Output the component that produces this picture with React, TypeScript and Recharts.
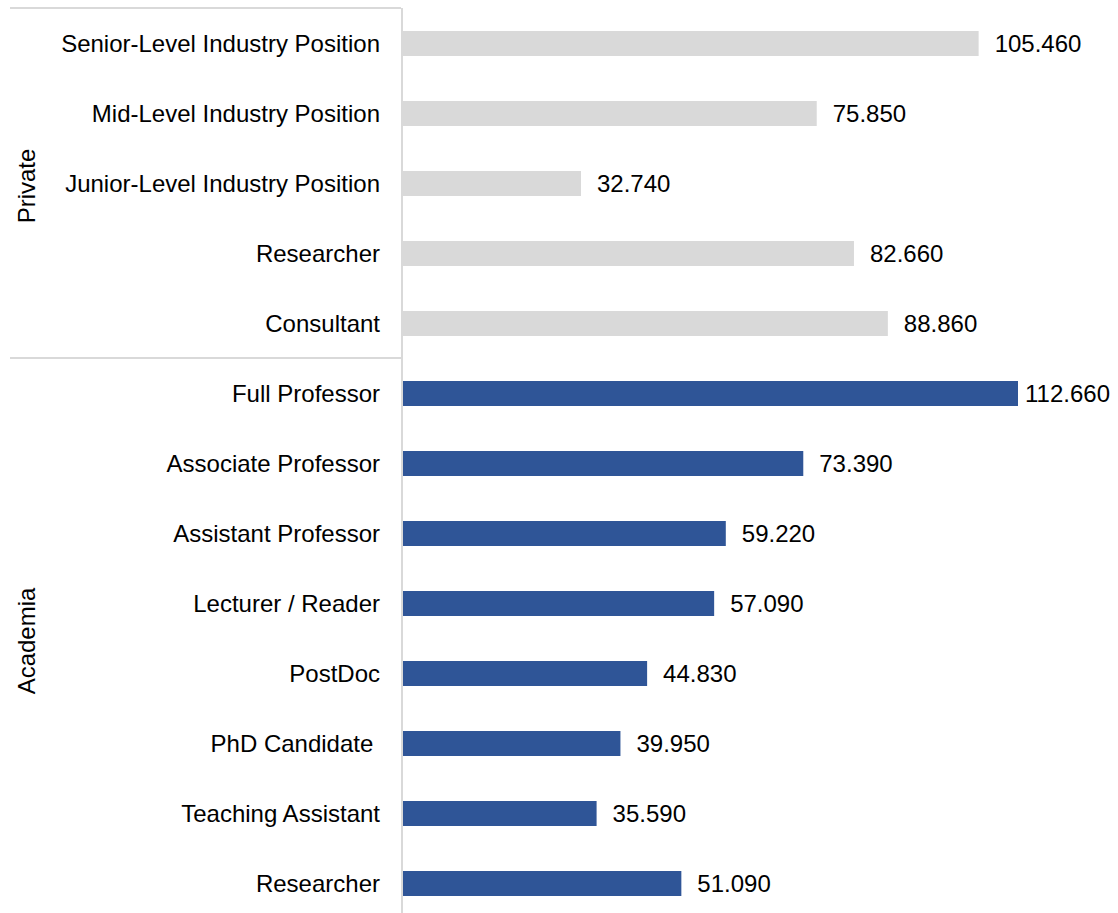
import { Bar, BarChart, Cell, LabelList, XAxis, YAxis } from "recharts";

const positions = [
  "Senior-Level Industry Position",
  "Mid-Level Industry Position",
  "Junior-Level Industry Position",
  "Researcher",
  "Consultant",
  "Full Professor",
  "Associate Professor",
  "Assistant Professor",
  "Lecturer / Reader",
  "PostDoc",
  "PhD Candidate ",
  "Teaching Assistant",
  "Researcher",
];
const salaries = [
  105.46, 75.85, 32.74, 82.66, 88.86, 112.66, 73.39, 59.22, 57.09, 44.83, 39.95, 35.59, 51.09,
];
const sectors = [
  "Private", "Private", "Private", "Private", "Private",
  "Academia", "Academia", "Academia", "Academia", "Academia", "Academia", "Academia", "Academia",
];

const groups = [
  { name: "Private", start: 0, size: 5 },
  { name: "Academia", start: 5, size: 8 },
];

const data = positions.map((p, i) => ({
  key: `${i}`,
  position: p,
  salary: salaries[i],
  sector: sectors[i],
}));

const W = 1118;
const H = 920;
const TOP = 8;
const BOTTOM = 2;
const AXIS_W = 402;
const FONT = "'Liberation Sans', Arial, Helvetica, sans-serif";
const FS = 24;
const band = (H - TOP - BOTTOM) / data.length;

const colors: Record<string, string> = { Private: "#d9d9d9", Academia: "#2f5597" };

function CategoryTick(props: any) {
  const { y, payload, index } = props;
  const row = data[index] ?? data[Number(payload.value)];
  const group = groups.find((g) => g.start === index);
  const gy = y - band / 2 + (group ? (group.size * band) / 2 : 0) + 3;
  return (
    <g>
      <text
        x={AXIS_W - 22}
        y={y}
        textAnchor="end"
        dominantBaseline="central"
        fontFamily={FONT}
        fontSize={FS}
        fill="#000"
        style={{ whiteSpace: "pre" }}
      >
        {row ? row.position : ""}
      </text>
      {group && (
        <>
          <line
            x1={10}
            x2={AXIS_W - 1}
            y1={y - band / 2}
            y2={y - band / 2}
            stroke="#d9d9d9"
            strokeWidth={2}
          />
          <text
            x={26}
            y={gy}
            transform={`rotate(-90, 26, ${gy})`}
            textAnchor="middle"
            dominantBaseline="central"
            fontFamily={FONT}
            fontSize={FS}
            fill="#000"
          >
            {group.name}
          </text>
        </>
      )}
    </g>
  );
}

function ValueLabel(props: any) {
  const { x, y, width, height, value } = props;
  const text = Number(value).toFixed(3);
  const est = FS * (0.556 * (text.length - 1) + 0.278);
  let tx = x + width + 16;
  if (tx + est > W - 6) tx = x + width + 7;
  return (
    <text
      x={tx}
      y={y + height / 2}
      dominantBaseline="central"
      fontFamily={FONT}
      fontSize={FS}
      fill="#000"
    >
      {text}
    </text>
  );
}

export default function App() {
  return (
    <div
      style={{
        position: "absolute",
        top: 0,
        left: 0,
        width: W,
        height: 913,
        overflow: "hidden",
        background: "#fff",
      }}
    >
      <BarChart
        width={W}
        height={H}
        data={data}
        layout="vertical"
        margin={{ top: TOP, right: 100, bottom: BOTTOM, left: 0 }}
        barSize={25}
      >
        <XAxis type="number" domain={[0, 112.66]} hide />
        <YAxis
          type="category"
          dataKey="key"
          width={AXIS_W}
          axisLine={{ stroke: "#d9d9d9", strokeWidth: 2 }}
          tickLine={false}
          interval={0}
          tick={<CategoryTick />}
        />
        <Bar dataKey="salary" isAnimationActive={false}>
          {data.map((d) => (
            <Cell key={d.key} fill={colors[d.sector]} />
          ))}
          <LabelList dataKey="salary" content={<ValueLabel />} />
        </Bar>
      </BarChart>
    </div>
  );
}
